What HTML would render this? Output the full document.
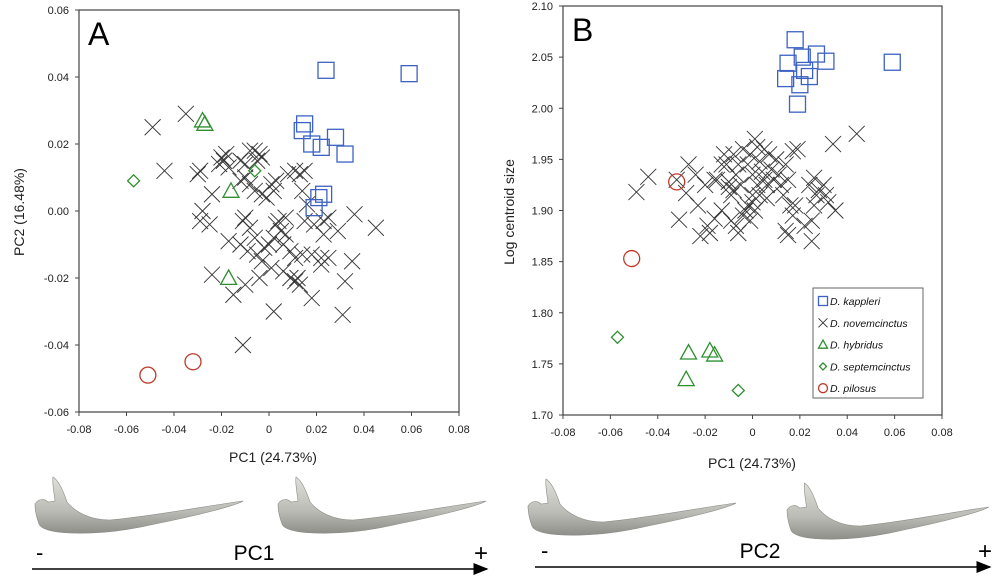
<!DOCTYPE html>
<html><head><meta charset="utf-8">
<style>
html,body{margin:0;padding:0;background:#fff;}
svg{display:block;font-family:"Liberation Sans",sans-serif;}
</style></head>
<body>
<svg id="fig" width="1000" height="577" viewBox="0 0 1000 577">
<defs>
<linearGradient id="bone" x1="0" y1="0" x2="0" y2="1">
<stop offset="0" stop-color="#e0e0da"/><stop offset="0.6" stop-color="#bcbcb6"/><stop offset="1" stop-color="#8e8e8a"/>
</linearGradient>
<marker id="ah" markerWidth="10" markerHeight="8" refX="9" refY="4" orient="auto"><path d="M0,0 L10,4 L0,8 Z" fill="#000"/></marker>
</defs>
<g id="panelA"></g>
<g id="panelB"></g>
<g id="bottom"></g>
</svg>
<script>
const xTicks=[-0.08,-0.06,-0.04,-0.02,0,0.02,0.04,0.06,0.08];
const yTicksA=[0.06,0.04,0.02,0.00,-0.02,-0.04,-0.06];
const yTicksB=[2.10,2.05,2.00,1.95,1.90,1.85,1.80,1.75,1.70];
const speciesNames=["D. kappleri","D. novemcinctus","D. hybridus","D. septemcinctus","D. pilosus"];

const A_kappleri=[[0.024,0.042],[0.059,0.041],[0.015,0.026],[0.014,0.024],[0.018,0.020],[0.022,0.019],[0.028,0.022],[0.032,0.017],[0.023,0.005],[0.021,0.004],[0.019,0.001]];
const A_hybridus=[[-0.028,0.027],[-0.027,0.026],[-0.016,0.006],[-0.017,-0.020]];
const A_septem=[[-0.057,0.009],[-0.006,0.012]];
const A_pilosus=[[-0.051,-0.049],[-0.032,-0.045]];
const A_novem=[[-0.049,0.025],[-0.035,0.029],[-0.044,0.012],[-0.030,0.011],[-0.029,0.012],[-0.024,0.005],[-0.028,0.0],[-0.029,-0.003],[-0.025,-0.004],[-0.020,0.016],[-0.019,0.015],[-0.021,0.014],[-0.018,0.017],[-0.017,0.013],[-0.012,0.015],[-0.010,0.014],[-0.008,0.018],[-0.006,0.018],[-0.004,0.017],[-0.005,0.015],[-0.003,0.016],[-0.010,0.010],[-0.012,0.009],[-0.008,0.008],[-0.006,0.006],[-0.003,0.005],[-0.001,0.004],[0.001,0.008],[0.002,0.006],[0.003,0.009],[0.008,0.011],[0.011,0.012],[0.013,0.011],[0.015,0.012],[0.014,0.006],[0.016,0.002],[0.015,-0.003],[0.019,-0.004],[0.023,-0.003],[0.025,-0.002],[0.023,-0.007],[0.029,-0.006],[0.036,-0.001],[0.045,-0.005],[-0.017,-0.009],[-0.012,-0.010],[-0.011,-0.003],[-0.010,-0.002],[-0.008,-0.005],[-0.006,-0.008],[-0.009,-0.012],[-0.005,-0.013],[-0.003,-0.015],[-0.002,-0.011],[0.0,-0.010],[0.002,-0.008],[0.003,-0.004],[0.005,-0.006],[0.007,-0.007],[0.006,-0.010],[0.009,-0.012],[0.011,-0.014],[0.014,-0.013],[0.018,-0.013],[0.022,-0.014],[0.025,-0.014],[0.022,-0.016],[0.035,-0.015],[0.032,-0.021],[0.031,-0.031],[0.018,-0.026],[0.002,-0.030],[-0.024,-0.019],[-0.015,-0.025],[-0.010,-0.022],[-0.004,-0.020],[0.001,-0.017],[0.006,-0.018],[0.009,-0.020],[0.011,-0.021],[0.013,-0.022],[0.012,-0.020],[-0.011,-0.040],[0.004,-0.003],[0.007,-0.002]];

const B_kappleri=[[0.018,2.067],[0.015,2.044],[0.021,2.050],[0.027,2.053],[0.031,2.046],[0.022,2.037],[0.024,2.031],[0.014,2.029],[0.020,2.023],[0.019,2.004],[0.059,2.045]];
const B_hybridus=[[-0.027,1.761],[-0.028,1.735],[-0.018,1.763],[-0.016,1.759]];
const B_septem=[[-0.057,1.776],[-0.006,1.724]];
const B_pilosus=[[-0.032,1.928],[-0.051,1.853]];
const B_novem=[[-0.049,1.918],[-0.044,1.933],[-0.032,1.930],[-0.031,1.891],[-0.028,1.917],[-0.027,1.945],[-0.024,1.935],[-0.023,1.905],[-0.022,1.875],[-0.020,1.925],[-0.019,1.885],[-0.018,1.878],[-0.016,1.892],[-0.015,1.930],[-0.013,1.900],[-0.012,1.955],[-0.011,1.945],[-0.010,1.923],[-0.009,1.915],[-0.010,1.928],[-0.008,1.920],[-0.007,1.935],[-0.008,1.955],[-0.006,1.945],[-0.005,1.925],[-0.007,1.885],[-0.009,1.890],[-0.006,1.878],[-0.004,1.895],[-0.003,1.900],[-0.002,1.905],[0.0,1.908],[-0.001,1.890],[0.001,1.900],[0.002,1.925],[0.0,1.935],[-0.002,1.945],[-0.001,1.955],[0.002,1.962],[0.001,1.970],[0.003,1.948],[0.004,1.938],[0.005,1.930],[0.006,1.925],[0.005,1.960],[0.007,1.955],[0.008,1.940],[0.009,1.930],[0.010,1.950],[0.011,1.935],[0.012,1.925],[0.013,1.915],[0.014,1.945],[0.015,1.930],[0.017,1.958],[0.019,1.960],[0.016,1.905],[0.017,1.895],[0.018,1.905],[0.014,1.880],[0.015,1.876],[0.022,1.885],[0.025,1.870],[0.025,1.890],[0.024,1.925],[0.026,1.932],[0.027,1.915],[0.028,1.920],[0.026,1.905],[0.030,1.925],[0.031,1.915],[0.032,1.908],[0.035,1.900],[0.034,1.965],[0.044,1.975],[-0.004,1.960],[-0.013,1.945],[0.003,1.915],[0.006,1.912],[-0.016,1.930],[0.0,1.915]];

const NS="http://www.w3.org/2000/svg";
function mk(tag,attrs,parent){const e=document.createElementNS(NS,tag);for(const k in attrs)e.setAttribute(k,attrs[k]);parent.appendChild(e);return e;}
const BLUE="#3b62c4",GREEN="#2f8f2f",RED="#c0392b",BLK="#333";

function drawMarker(g,type,cx,cy,s){
  let e;
  if(type==="square"){e=mk("rect",{x:cx-s/2,y:cy-s/2,width:s,height:s,fill:"none",stroke:BLUE,"stroke-width":1.3},g);}
  else if(type==="cross"){const h=s/2;e=mk("path",{d:`M${cx-h},${cy-h}L${cx+h},${cy+h}M${cx-h},${cy+h}L${cx+h},${cy-h}`,stroke:BLK,"stroke-width":0.9,fill:"none"},g);}
  else if(type==="tri"){const h=s/2;e=mk("path",{d:`M${cx},${cy-h}L${cx+h},${cy+h*0.8}L${cx-h},${cy+h*0.8}Z`,fill:"none",stroke:GREEN,"stroke-width":1.3},g);}
  else if(type==="diamond"){const h=s/2;e=mk("path",{d:`M${cx},${cy-h}L${cx+h},${cy}L${cx},${cy+h}L${cx-h},${cy}Z`,fill:"none",stroke:GREEN,"stroke-width":1.3},g);}
  else {e=mk("circle",{cx:cx,cy:cy,r:s/2,fill:"none",stroke:RED,"stroke-width":1.3},g);}
  return e;
}

function panel(g,o){
  const sx=v=>o.x0+(v-xTicks[0])/(xTicks[xTicks.length-1]-xTicks[0])*(o.x1-o.x0);
  const yMin=o.yt[o.yt.length-1],yMax=o.yt[0];
  const sy=v=>o.y1-(v-yMin)/(yMax-yMin)*(o.y1-o.y0);
  const frame=mk("rect",{x:o.x0,y:o.y0,width:o.x1-o.x0,height:o.y1-o.y0,fill:"none",stroke:"#444","stroke-width":1.2},g);
  
  
  xTicks.forEach(t=>{
    mk("line",{x1:sx(t),x2:sx(t),y1:o.y1,y2:o.y1+4,stroke:"#444"},g);
    const tx=mk("text",{x:sx(t),y:o.y1+21,"font-size":11,"text-anchor":"middle",fill:"#222"},g);
    tx.textContent=t===0?"0":t.toFixed(2);
    
    
  });
  o.yt.forEach(t=>{
    mk("line",{x1:o.x0-4,x2:o.x0,y1:sy(t),y2:sy(t),stroke:"#444"},g);
    const ty=mk("text",{x:o.x0-10,y:sy(t)+4,"font-size":11,"text-anchor":"end",fill:"#222"},g);
    ty.textContent=t.toFixed(2);
    
    
  });
  const L=mk("text",{x:o.x0+9,y:o.y0+35,"font-size":32,fill:"#000"},g);
  L.textContent=o.letter;
  
  
  const xt=mk("text",{x:o.xtx,y:o.xty,"font-size":14,"text-anchor":"middle",fill:"#222"},g);
  xt.textContent="PC1 (24.73%)";
  
  
  const yt=mk("text",{x:0,y:0,"font-size":14,"text-anchor":"middle",fill:"#222",transform:`translate(${o.ytx},${o.yty}) rotate(-90)`},g);
  yt.textContent=o.ytitle;
  
  
  const series=[[o.novem,"cross",16],[o.kap,"square",16],[o.hyb,"tri",16],[o.sep,"diamond",12],[o.pil,"circle",16]];
  series.forEach(([arr,type,s])=>{
    arr.forEach(p=>{
      const m=drawMarker(g,type,sx(p[0]),sy(p[1]),s);
      
      
    });
  });
}

panel(document.getElementById("panelA"),{x0:79,x1:459,y0:10,y1:412,yt:yTicksA,letter:"A",xtx:273,xty:462,ytx:24,yty:212,ytitle:"PC2 (16.48%)",
  novem:A_novem,kap:A_kappleri,hyb:A_hybridus,sep:A_septem,pil:A_pilosus});
panel(document.getElementById("panelB"),{x0:563,x1:942,y0:6,y1:415,yt:yTicksB,letter:"B",xtx:752,xty:468,ytx:514,yty:212,ytitle:"Log centroid size",
  novem:B_novem,kap:B_kappleri,hyb:B_hybridus,sep:B_septem,pil:B_pilosus});

// legend
const gB=document.getElementById("panelB");
const lg=mk("g",{},gB);


mk("rect",{x:813,y:288,width:110,height:110,fill:"#fff",stroke:"#666","stroke-width":1},lg);
const ltypes=["square","cross","tri","diamond","circle"];
speciesNames.forEach((n,i)=>{
  const y=301+i*21.8;
  const m=drawMarker(lg,ltypes[i],823,y,ltypes[i]==="diamond"?7:9);
  
  
  const t=mk("text",{x:830,y:y+4,"font-size":10.5,"font-style":"italic",fill:"#111"},lg);
  t.textContent=n;
  
  
});

// bottom jaws
const bt=document.getElementById("bottom");
const jawPath="M0,30 C3,25 9,24 13,28 L20,27 C19,18 17,9 18,3 C23,6 28,16 32,28 C40,38 55,46 75,46 C120,42 170,32 208,27 C200,32 160,42 120,50 C90,57 60,60 35,59 C15,58 6,55 4,50 C2,44 0,38 0,30 Z";
[[35,474,1],[278,474,1],[528,476,1],[787,480,0.97]].forEach(([x,y,s])=>{
  const j=mk("path",{d:jawPath,fill:"url(#bone)",stroke:"#8a8a86","stroke-width":0.6,transform:`translate(${x},${y}) scale(${s},1)`},bt);
  
  
});
[[32,487,569,36,474,254,"PC1"],[535,990,567,541,978,760,"PC2"]].forEach(([a,b,y,mx,px,lx,lab])=>{
  const ar=mk("line",{x1:a,x2:b,y1:y,y2:y,stroke:"#000","stroke-width":1.5,"marker-end":"url(#ah)"},bt);
  
  
  const m=mk("text",{x:mx,y:y-9,"font-size":22,fill:"#000"},bt);m.textContent="-";
  
  
  const p=mk("text",{x:px,y:y-8,"font-size":24,fill:"#000"},bt);p.textContent="+";
  
  
  const l=mk("text",{x:lx,y:y-9,"font-size":21,"text-anchor":"middle",fill:"#000"},bt);l.textContent=lab;
  
  
});
</script>
</body></html>
